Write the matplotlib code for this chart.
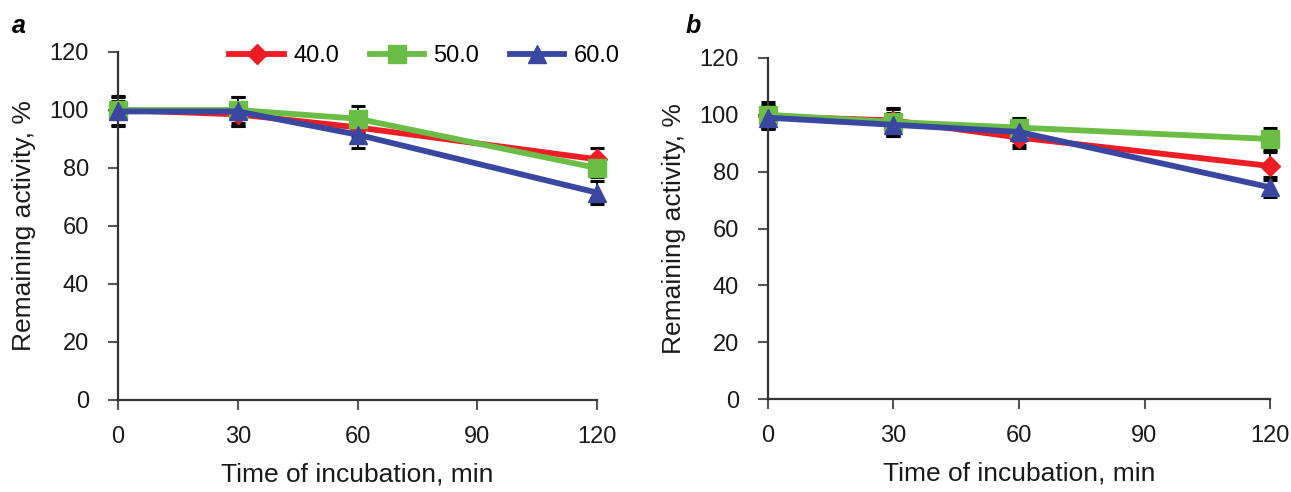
import matplotlib
matplotlib.use("Agg")
import matplotlib.pyplot as plt

plt.rcParams['font.family'] = ['Liberation Sans', 'DejaVu Sans']

time = [0, 30, 60, 120]
labels = ["40.0", "50.0", "60.0"]
colors = ["#ee1c25", "#6cbd45", "#3a47a1"]
markers = ["D", "s", "^"]
msizes = [10, 13, 13]

# Panel a
a_40 = [100, 98.5, 94, 83]
a_50 = [100, 100, 97, 80]
a_60 = [99.5, 99.5, 91.5, 71.5]
a_40_err = [3, 4, 3, 4]
a_50_err = [5, 4.5, 4.5, 3]
a_60_err = [5, 5, 4.5, 4]

# Panel b
b_40 = [99.5, 98, 92, 82]
b_50 = [100, 97.5, 95.5, 91.5]
b_60 = [99, 96.5, 94, 74.5]
b_40_err = [4, 4, 3.5, 5]
b_50_err = [4.5, 5, 3.5, 4]
b_60_err = [4, 4, 4.5, 3.5]

xticks = [0, 30, 60, 90, 120]
yticks = [0, 20, 40, 60, 80, 100, 120]

fig = plt.figure(figsize=(12.91, 4.92), dpi=100)
ax_a = fig.add_axes([118/1291, 1-400/492, 479/1291, 348/492])
ax_b = fig.add_axes([768/1291, 1-399/492, 502/1291, 341/492])

def draw(ax, series, errs, legend):
    for ys, es, c, m, ms, lab in zip(series, errs, colors, markers, msizes, labels):
        ax.errorbar(time, ys, yerr=es, fmt='none', ecolor='black', elinewidth=1.3,
                    capsize=5, capthick=2.2, clip_on=False, zorder=2)
        ax.plot(time, ys, color=c, marker=m, markersize=ms, linewidth=4.2,
                label=lab, clip_on=False, zorder=3)
    ax.set_xlim(0, 120)
    ax.set_ylim(0, 120)
    ax.set_xticks(xticks)
    ax.set_yticks(yticks)
    for s in ['top', 'right']:
        ax.spines[s].set_visible(False)
    for s in ['left', 'bottom']:
        ax.spines[s].set_color('#333333')
        ax.spines[s].set_linewidth(1.6)
    ax.tick_params(axis='both', direction='out', length=7, width=1.5,
                   colors='#555555', labelcolor='#1a1a1a', labelsize=17)
    ax.tick_params(axis='y', pad=14)
    ax.tick_params(axis='x', pad=12)
    ax.set_xlabel("Time of incubation, min", fontsize=19, color='#1a1a1a', labelpad=10)
    ax.set_ylabel("Remaining activity, %", fontsize=19, color='#1a1a1a', labelpad=10)
    if legend:
        ax.legend(loc='upper center', bbox_to_anchor=(0.64, 1.08), ncol=3, frameon=False,
                  fontsize=17, handlelength=2.3, columnspacing=1.3, handletextpad=0.4)

draw(ax_a, [a_40, a_50, a_60], [a_40_err, a_50_err, a_60_err], True)
draw(ax_b, [b_40, b_50, b_60], [b_40_err, b_50_err, b_60_err], False)

fig.text(12/1291, 1-26/492, "a", fontsize=18, fontweight='bold', fontstyle='italic', va='center')
fig.text(686/1291, 1-26/492, "b", fontsize=18, fontweight='bold', fontstyle='italic', va='center')

fig.savefig("out.png", dpi=100)
